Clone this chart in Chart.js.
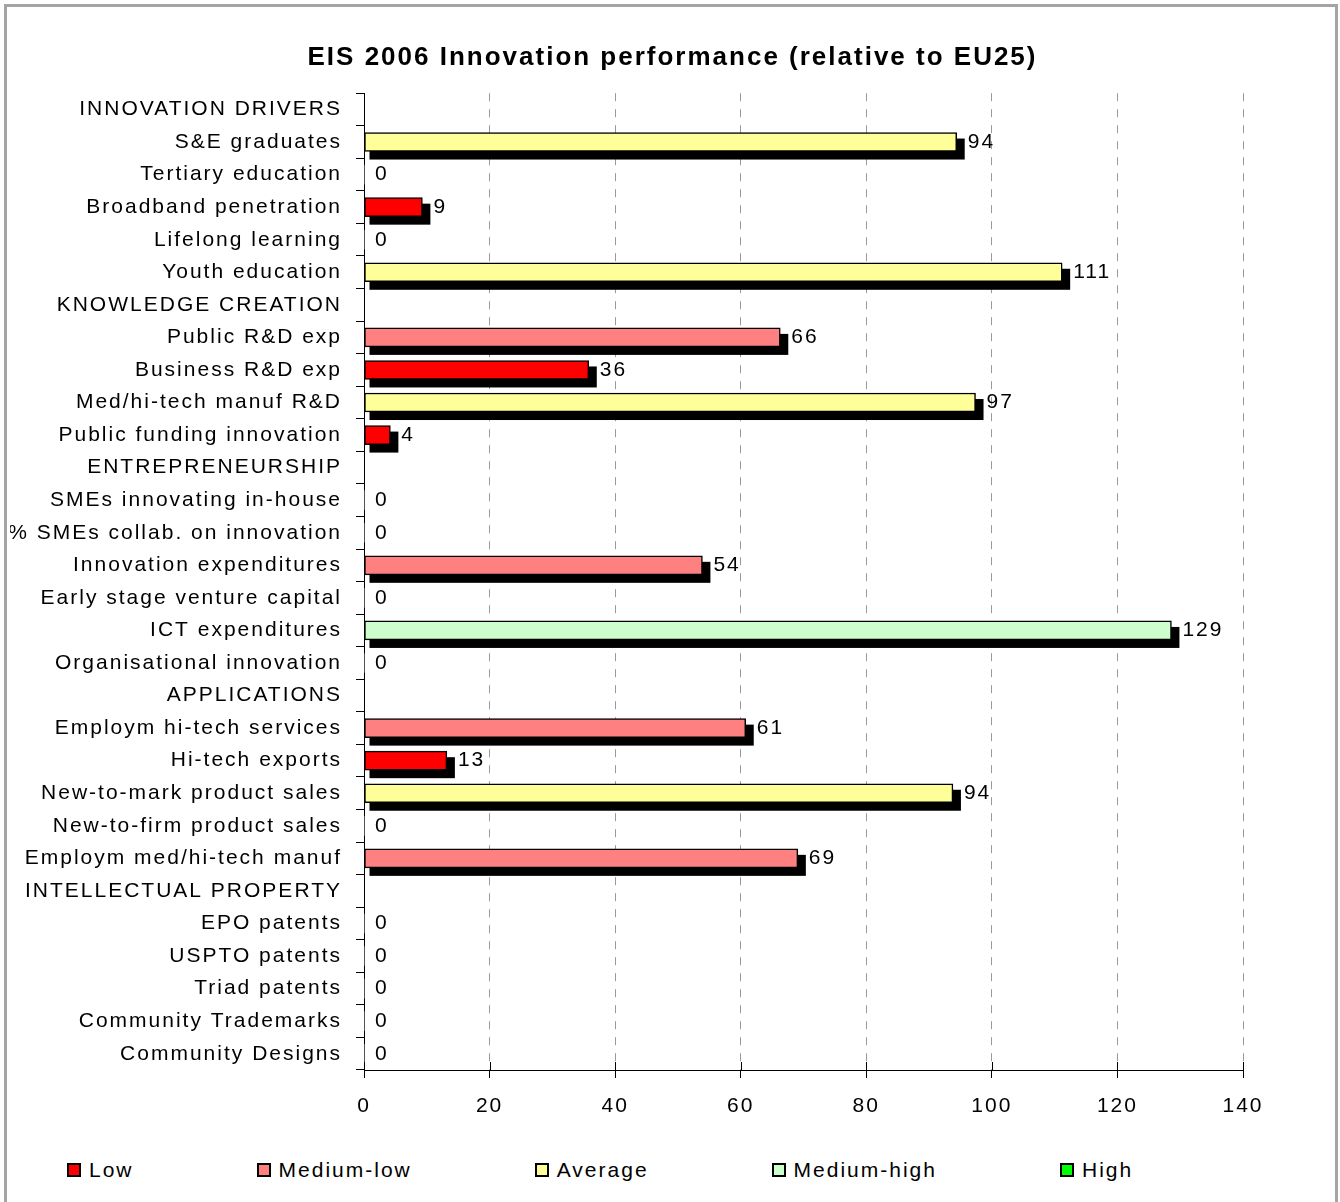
<!DOCTYPE html>
<html>
<head>
<meta charset="utf-8">
<script src="https://cdn.jsdelivr.net/npm/chart.js@4.4.1/dist/chart.umd.min.js"></script>
<style>
  body { margin: 0; background: #fff; font-family: "Liberation Sans", Arial, sans-serif; }
  #frame { position: absolute; left: 4px; top: 4px; width: 1328px; height: 1210px; border: 3px solid #a4a4a4; }
  #c { position: absolute; left: 0; top: 0; }
  #legend { position: absolute; left: 67px; top: 1158px; display: flex; gap: 123px; font-size: 21px; letter-spacing: 2px; color: #000; }
  #legend span.item { display: flex; align-items: center; }
  #legend i { display: inline-block; width: 10px; height: 10px; border: 2px solid #000; margin-right: 8px; }
</style>
</head>
<body>
<div id="frame"></div>
<canvas id="c" width="1340" height="1140"></canvas>
<div id="legend"></div>
<script>
const categories = [
  "INNOVATION DRIVERS", "S&E graduates", "Tertiary education", "Broadband penetration",
  "Lifelong learning", "Youth education", "KNOWLEDGE CREATION", "Public R&D exp",
  "Business R&D exp", "Med/hi-tech manuf R&D", "Public funding innovation", "ENTREPRENEURSHIP",
  "SMEs innovating in-house", "% SMEs collab. on innovation", "Innovation expenditures",
  "Early stage venture capital", "ICT expenditures", "Organisational innovation", "APPLICATIONS",
  "Employm hi-tech services", "Hi-tech exports", "New-to-mark product sales",
  "New-to-firm product sales", "Employm med/hi-tech manuf", "INTELLECTUAL PROPERTY",
  "EPO patents", "USPTO patents", "Triad patents", "Community Trademarks", "Community Designs"
];
const values = [null, 94.4, 0, 9.3, 0, 111.2, null, 66.3, 35.8, 97.4, 4.2, null, 0, 0, 53.9, 0, 128.6, 0, null,
  60.8, 13.2, 93.8, 0, 69.1, null, 0, 0, 0, 0, 0];
// performance band of each row (index into bandNames), null where no bar
const bands = [null, 2, null, 0, null, 2, null, 1, 0, 2, 0, null, null, null, 1, null, 3, null, null,
  1, 0, 2, null, 1, null, null, null, null, null, null];
const bandNames = ["Low", "Medium-low", "Average", "Medium-high", "High"];
const bandColors = ["#FF0000", "#FF8080", "#FFFF99", "#CCFFCC", "#00FF00"];

const FONT = "'Liberation Sans', Arial, sans-serif";

// spacing between letters, canvas state is reset when chart sizes the canvas
const spacing = {
  id: "spacing",
  beforeLayout(chart) { chart.ctx.letterSpacing = "2px"; },
  afterLayout(chart) {
    // title sits over the whole frame, not over the padded box
    chart.titleBlock.left += 46;
    chart.titleBlock.right += 46;
  },
  beforeDraw(chart) { chart.ctx.letterSpacing = "2px"; }
};

// black drop shadow under each bar, value labels, crossing ticks
const shadow = {
  id: "shadow",
  beforeDatasetsDraw(chart) {
    const ctx = chart.ctx;
    const meta = chart.getDatasetMeta(0);
    ctx.save();
    ctx.fillStyle = "#000";
    meta.data.forEach((el, i) => {
      if (!values[i]) return;
      const h = el.height;
      ctx.fillRect(el.base + 5, el.y - h / 2 + 6, el.x - el.base + 3, h + 2);
    });
    ctx.restore();
  },
  afterDatasetsDraw(chart) {
    const ctx = chart.ctx;
    const meta = chart.getDatasetMeta(0);
    ctx.save();
    ctx.letterSpacing = "2px";
    ctx.fillStyle = "#000";
    ctx.font = "21px " + FONT;
    ctx.textAlign = "left";
    ctx.textBaseline = "middle";
    meta.data.forEach((el, i) => {
      if (values[i] === null) return;
      ctx.fillText(String(Math.round(values[i])), el.x + 11, el.y);
    });
    ctx.restore();
  },
  afterDraw(chart) {
    const ctx = chart.ctx, xs = chart.scales.x, b = chart.chartArea.bottom;
    ctx.save();
    ctx.strokeStyle = "#000";
    ctx.lineWidth = 1;
    xs.ticks.forEach(t => {
      const px = Math.round(xs.getPixelForValue(t.value)) + 0.5;
      ctx.beginPath();
      ctx.moveTo(px, b - 8);
      ctx.lineTo(px, b);
      ctx.stroke();
    });
    ctx.restore();
  }
};

new Chart(document.getElementById("c").getContext("2d"), {
  type: "bar",
  data: {
    labels: categories,
    datasets: [{
      data: values,
      backgroundColor: bands.map(b => b === null ? "#fff" : bandColors[b]),
      borderColor: "#000",
      borderWidth: ctx => (ctx.raw ? 1.5 : 0),
      borderSkipped: false,
      barThickness: 19
    }]
  },
  options: {
    indexAxis: "y",
    responsive: false,
    animation: false,
    layout: { padding: { left: 10, right: 97, top: 0, bottom: 20 } },
    scales: {
      x: {
        min: 0, max: 140,
        ticks: { stepSize: 20, color: "#000", padding: 16, font: { family: FONT, size: 21 } },
        grid: { color: "#9a9a9a", tickColor: "#000", tickLength: 8 },
        border: { color: "#000", width: 1, dash: [8, 8] },
        afterFit(s) { s.height = 50; }
      },
      y: {
        ticks: { color: "#000", padding: 14, font: { family: FONT, size: 21 }, autoSkip: false },
        grid: { offset: true, drawOnChartArea: false, color: "#000", tickLength: 8 },
        border: { color: "#000", width: 1 },
        afterFit(s) { s.width = 354; }
      }
    },
    plugins: {
      legend: { display: false },
      tooltip: { enabled: false },
      title: {
        display: true,
        text: "EIS 2006 Innovation performance (relative to EU25)",
        color: "#000",
        font: { family: FONT, size: 26, weight: "bold" },
        padding: { top: 42, bottom: 20 }
      }
    }
  },
  plugins: [spacing, shadow]
});

const legend = document.getElementById("legend");
bandNames.forEach((name, i) => {
  const item = document.createElement("span");
  item.className = "item";
  const box = document.createElement("i");
  box.style.background = bandColors[i];
  item.appendChild(box);
  item.appendChild(document.createTextNode(name));
  legend.appendChild(item);
});
</script>
</body>
</html>
